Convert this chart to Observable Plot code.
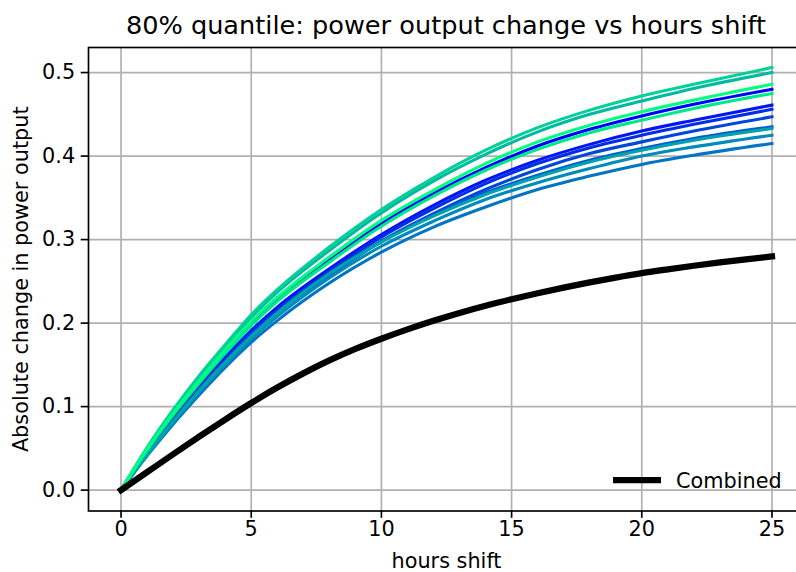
<!DOCTYPE html>
<html>
<head>
<meta charset="utf-8">
<script src="https://cdn.jsdelivr.net/npm/d3@7"></script>
<script src="https://cdn.jsdelivr.net/npm/@observablehq/plot@0.6"></script>
<style>
  html, body { margin: 0; padding: 0; background: #fff; }
  body { width: 796px; height: 572px; overflow: hidden; position: relative; font-family: "DejaVu Sans", sans-serif; }
  #chart svg { max-width: none !important; display: block; }
  #overlay { position: absolute; left: 0; top: 0; pointer-events: none; }
</style>
</head>
<body>
<div id="chart"></div>
<svg id="overlay" width="796" height="572"></svg>
<script>
// ---- data ----
const titleText = "80% quantile: power output change vs hours shift";
const xLabel = "hours shift";
const yLabel = "Absolute change in power output";
const legendLabel = "Combined";

const xTicks = [0, 5, 10, 15, 20, 25];
const yTicks = [0.0, 0.1, 0.2, 0.3, 0.4, 0.5];

const hours = [0, 1, 2, 3, 4, 5, 6, 8, 10, 12, 14, 16, 18, 20, 22, 25];
const series01 = [0, 0.048, 0.091, 0.130, 0.166, 0.199, 0.228, 0.276, 0.319, 0.355, 0.386, 0.412, 0.432, 0.448, 0.462, 0.480];
const series02 = [0, 0.046, 0.087, 0.124, 0.159, 0.191, 0.219, 0.265, 0.306, 0.341, 0.371, 0.395, 0.414, 0.430, 0.443, 0.461];
const series03 = [0, 0.046, 0.087, 0.123, 0.157, 0.189, 0.216, 0.262, 0.303, 0.337, 0.367, 0.391, 0.410, 0.425, 0.438, 0.456];
const series04 = [0, 0.045, 0.085, 0.121, 0.154, 0.186, 0.213, 0.257, 0.298, 0.331, 0.360, 0.384, 0.403, 0.417, 0.430, 0.447];
const series05 = [0, 0.043, 0.083, 0.120, 0.154, 0.185, 0.213, 0.260, 0.298, 0.330, 0.356, 0.377, 0.395, 0.409, 0.421, 0.435];
const series06 = [0, 0.041, 0.079, 0.114, 0.147, 0.177, 0.203, 0.248, 0.285, 0.315, 0.339, 0.360, 0.376, 0.390, 0.401, 0.415];
const series07 = [0, 0.042, 0.081, 0.117, 0.150, 0.181, 0.208, 0.254, 0.292, 0.322, 0.348, 0.368, 0.385, 0.400, 0.411, 0.425];
const series08 = [0, 0.042, 0.082, 0.119, 0.153, 0.184, 0.212, 0.259, 0.297, 0.328, 0.354, 0.375, 0.393, 0.407, 0.419, 0.433];
const series09 = [0, 0.050, 0.095, 0.135, 0.172, 0.207, 0.237, 0.287, 0.332, 0.370, 0.402, 0.429, 0.450, 0.466, 0.481, 0.500];
const series10 = [0, 0.051, 0.096, 0.137, 0.174, 0.210, 0.240, 0.291, 0.336, 0.374, 0.407, 0.434, 0.455, 0.472, 0.486, 0.506];
const series11 = [0, 0.048, 0.090, 0.128, 0.164, 0.197, 0.226, 0.273, 0.316, 0.352, 0.383, 0.408, 0.428, 0.443, 0.457, 0.475];
const series12 = [0, 0.049, 0.092, 0.131, 0.168, 0.202, 0.231, 0.279, 0.323, 0.359, 0.391, 0.417, 0.437, 0.453, 0.467, 0.486];

const combinedHours = [0,1,2,3,4,5,6,7,8,9,10,11,12,13,14,15,16,17,18,19,20,21,22,23,24,25];
const combined = [0, 0.0215, 0.043, 0.064, 0.0845, 0.1043, 0.1228, 0.1398, 0.1553, 0.1691, 0.1813, 0.1925, 0.2028, 0.2122, 0.2208, 0.2286, 0.2358, 0.2425, 0.2487, 0.2545, 0.2598, 0.2644, 0.2687, 0.2727, 0.2764, 0.2798];

// ---- build ----
const allSeries = [series01, series02, series03, series04, series05, series06,
                   series07, series08, series09, series10, series11, series12];
const winter = d3.interpolateRgb("#0000ff", "#00ff80");
const seriesMarks = allSeries.map((vals, i) =>
  Plot.line(hours.map((h, j) => ({hour: h, value: vals[j]})), {
    x: "hour", y: "value",
    stroke: winter(i / (allSeries.length - 1)),
    strokeWidth: 3.1, curve: "monotone-x",
    strokeLinecap: "square", strokeLinejoin: "round"
  })
);
const combinedData = combinedHours.map((h, j) => ({hour: h, value: combined[j]}));

const FONT = "DejaVu Sans";
const chart = Plot.plot({
  width: 810, height: 572,
  marginLeft: 88, marginRight: 6, marginTop: 47, marginBottom: 61.5,
  style: {fontFamily: FONT, fontSize: "20.8px", color: "black", background: "white", overflow: "visible"},
  x: {domain: [-1.25, 26.25]},
  y: {domain: [-0.025, 0.53]},
  marks: [
    Plot.gridX(xTicks, {stroke: "#b0b0b0", strokeOpacity: 1, strokeWidth: 1.67}),
    Plot.gridY(yTicks, {stroke: "#b0b0b0", strokeOpacity: 1, strokeWidth: 1.67}),
    ...seriesMarks,
    Plot.line(combinedData, {x: "hour", y: "value", stroke: "black", strokeWidth: 6.25,
      curve: "monotone-x", strokeLinecap: "square", strokeLinejoin: "round"}),
    Plot.frame({stroke: "black", strokeWidth: 1.67}),
    Plot.axisX(xTicks, {tickSize: 7.3, tickPadding: 3, strokeWidth: 1.67, fontSize: 20.8,
      label: xLabel, labelAnchor: "center", labelOffset: 57, labelArrow: "none"}),
    Plot.axisY(yTicks, {tickSize: 7.3, tickPadding: 6, strokeWidth: 1.67, fontSize: 20.8,
      tickFormat: d3.format(".1f"),
      label: yLabel, labelAnchor: "center", labelOffset: 75, labelArrow: "none"})
  ]
});
document.getElementById("chart").append(chart);

// title and legend overlay
const ov = d3.select("#overlay");
ov.append("text").attr("x", 446).attr("y", 34).attr("text-anchor", "middle")
  .attr("font-family", FONT).attr("font-size", 25.6).attr("fill", "black").text(titleText);
ov.append("line").attr("x1", 613).attr("x2", 661).attr("y1", 480).attr("y2", 480)
  .attr("stroke", "black").attr("stroke-width", 6.25);
ov.append("text").attr("x", 676).attr("y", 487.5).attr("font-family", FONT)
  .attr("font-size", 20.8).attr("fill", "black").text(legendLabel);
</script>
</body>
</html>
